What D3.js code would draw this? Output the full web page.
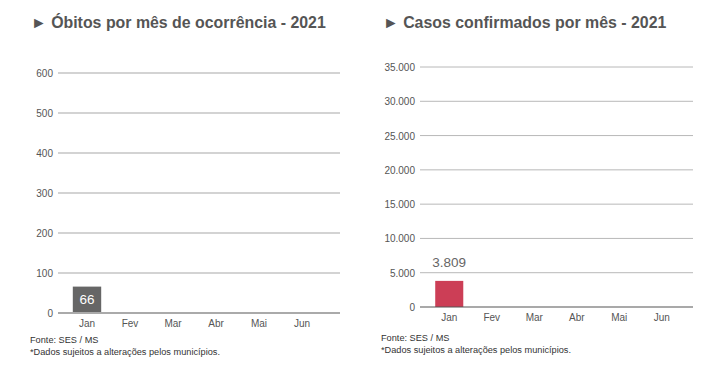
<!DOCTYPE html>
<html>
<head>
<meta charset="utf-8">
<script src="https://cdn.jsdelivr.net/npm/d3@7"></script>
<style>
  body { margin: 0; background: #fff; }
  svg text { font-family: "Liberation Sans", Arial, sans-serif; }
</style>
</head>
<body>
<div id="chart"></div>
<script>
var months = ['Jan', 'Fev', 'Mar', 'Abr', 'Mai', 'Jun'];
var obitos = [66, null, null, null, null, null];
var casos = [3809, null, null, null, null, null];
var obitosTicks = [0, 100, 200, 300, 400, 500, 600];
var casosTicks = [0, 5000, 10000, 15000, 20000, 25000, 30000, 35000];
var footer = ['Fonte: SES / MS', '*Dados sujeitos a alterações pelos municípios.'];

var svg = d3.select('#chart').append('svg').attr('width', 709).attr('height', 374);
var fmt = d3.formatLocale({ decimal: ',', thousands: '.', grouping: [3], currency: ['R$', ''] }).format(',d');

function drawPanel(opts) {
  var g = svg.append('g');
  g.append('text')
    .attr('x', opts.titleX).attr('y', 28)
    .attr('font-size', 15.9).attr('font-weight', 'bold').attr('fill', '#555')
    .text('\u25BA ' + opts.title);

  var y = d3.scaleLinear().domain([0, opts.max]).range([opts.y0, opts.yTop]);
  var x = d3.scaleBand().domain(months).range([opts.bandStart, opts.bandStart + 6 * opts.step]).paddingInner(0.34).paddingOuter(0.17);

  g.selectAll('.grid').data(opts.ticks.filter(function(t) { return t > 0; })).enter().append('line')
    .attr('x1', opts.gridX1).attr('x2', opts.gridX2)
    .attr('y1', function(d) { return y(d); }).attr('y2', function(d) { return y(d); })
    .attr('stroke', opts.gridColor).attr('stroke-width', opts.gridWidth);

  g.selectAll('.ylab').data(opts.ticks).enter().append('text')
    .attr('x', opts.gridX1 - 5).attr('y', function(d) { return y(d) + 4; })
    .attr('text-anchor', 'end').attr('font-size', 10).attr('fill', '#555')
    .text(function(d) { return fmt(d); });

  var vals = opts.values.map(function(v, i) { return { m: months[i], v: v }; }).filter(function(d) { return d.v != null; });
  g.selectAll('.bar').data(vals).enter().append('rect')
    .attr('x', function(d) { return x(d.m); }).attr('width', x.bandwidth())
    .attr('y', function(d) { return y(d.v); }).attr('height', function(d) { return y(0) - y(d.v); })
    .attr('fill', opts.barColor);

  g.selectAll('.vlab').data(vals).enter().append('text')
    .attr('x', function(d) { return x(d.m) + x.bandwidth() / 2; })
    .attr('y', function(d) { return opts.labelInside ? y(d.v) + 17 : y(d.v) - 14; })
    .attr('text-anchor', 'middle').attr('font-size', 13.5)
    .attr('fill', opts.labelInside ? '#fff' : '#666')
    .text(function(d) { return fmt(d.v); });

  g.append('line')
    .attr('x1', opts.gridX1).attr('x2', opts.gridX2)
    .attr('y1', y(0)).attr('y2', y(0))
    .attr('stroke', opts.zeroColor).attr('stroke-width', opts.zeroWidth);

  g.selectAll('.xlab').data(months).enter().append('text')
    .attr('x', function(d) { return x(d) + x.bandwidth() / 2; })
    .attr('y', y(0) + 14).attr('text-anchor', 'middle')
    .attr('font-size', 10).attr('fill', '#555')
    .text(function(d) { return d; });

  g.selectAll('.foot').data(footer).enter().append('text')
    .attr('x', opts.footX).attr('y', function(d, i) { return opts.footY + i * 12; })
    .attr('font-size', 9.2).attr('fill', '#333')
    .text(function(d) { return d; });
}

drawPanel({
  title: 'Óbitos por mês de ocorrência - 2021', titleX: 31,
  values: obitos, ticks: obitosTicks, max: 600,
  y0: 313, yTop: 73, gridX1: 58, gridX2: 340,
  bandStart: 65.5, step: 43,
  gridColor: '#c4c4c4', gridWidth: 1.3, zeroColor: '#aaa', zeroWidth: 2,
  barColor: '#666666', labelInside: true,
  footX: 30, footY: 343
});

drawPanel({
  title: 'Casos confirmados por mês - 2021', titleX: 383,
  values: casos, ticks: casosTicks, max: 35000,
  y0: 307, yTop: 67, gridX1: 420, gridX2: 693,
  bandStart: 428, step: 42.5,
  gridColor: '#b8b8b8', gridWidth: 1, zeroColor: '#555', zeroWidth: 1.2,
  barColor: '#cc3e56', labelInside: false,
  footX: 381, footY: 341
});
</script>
</body>
</html>
